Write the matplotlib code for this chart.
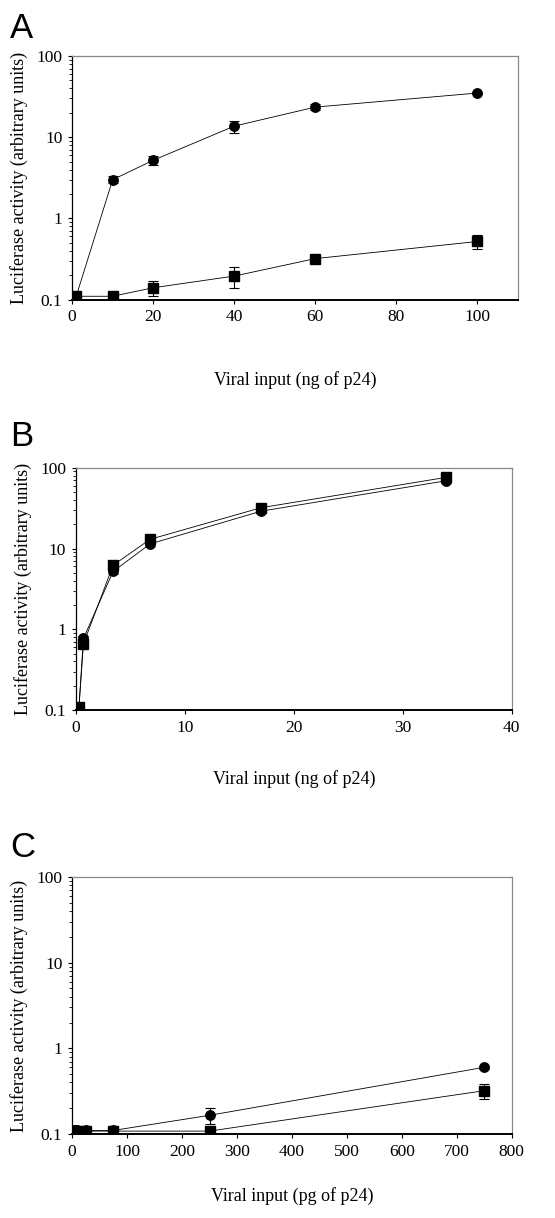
import matplotlib
matplotlib.use('Agg')
import matplotlib.pyplot as plt
from matplotlib.ticker import FixedLocator, LogLocator, NullFormatter

plt.rcParams['font.family'] = 'Liberation Serif'

# panel A: ng of p24
a_x = [1, 10, 20, 40, 60, 100]
a_circ = [0.11, 3.0, 5.2, 13.7, 23.5, 35]
a_circ_err = [0.0, 0.3, 0.6, 2.3, 1.8, 1.0]
a_sq = [0.11, 0.11, 0.14, 0.195, 0.32, 0.52]
a_sq_err = [0.0, 0.0, 0.03, 0.055, 0.015, 0.105]

# panel B: ng of p24
b_x = [0.27, 0.68, 3.4, 6.8, 17, 34]
b_circ = [0.11, 0.77, 5.2, 11.4, 29, 69]
b_circ_err = [0.0, 0.05, 0.4, 0.8, 1.5, 4]
b_sq = [0.11, 0.66, 6.2, 13.0, 32, 76]
b_sq_err = [0.0, 0.08, 0.6, 1.2, 2, 6]

# panel C: pg of p24
c_x = [2.5, 8, 25, 75, 250, 750]
c_circ = [0.11, 0.11, 0.11, 0.11, 0.165, 0.6]
c_circ_err = [0.0, 0.0, 0.0, 0.0, 0.035, 0.02]
c_sq = [0.108, 0.108, 0.108, 0.108, 0.108, 0.32]
c_sq_err = [0.0, 0.0, 0.0, 0.0, 0.0, 0.065]

panels = [
    ('A', a_x, a_circ, a_circ_err, a_sq, a_sq_err, (0, 110), [0, 20, 40, 60, 80, 100],
     'Viral input (ng of p24)', [0.130, 0.754, 0.803, 0.200], 0.977, 33),
    ('B', b_x, b_circ, b_circ_err, b_sq, b_sq_err, (0, 40), [0, 10, 20, 30, 40],
     'Viral input (ng of p24)', [0.137, 0.417, 0.785, 0.199], 0.642, 25),
    ('C', c_x, c_circ, c_circ_err, c_sq, c_sq_err, (0, 800), list(range(0, 801, 100)),
     'Viral input (pg of p24)', [0.130, 0.069, 0.792, 0.211], 0.304, 20),
]

fig = plt.figure(figsize=(5.55, 12.18), dpi=100)

for letter, x, yc, ec, ys, es, xlim, xt, xlab, pos, ly, lpad in panels:
    ax = fig.add_axes(pos)
    ax.errorbar(x, ys, yerr=es, color='black', marker='s', ms=6.8, lw=0.6,
                elinewidth=0.8, capsize=3.5, capthick=0.8, zorder=3)
    ax.errorbar(x, yc, yerr=ec, color='black', marker='o', ms=6.8, lw=0.6,
                elinewidth=0.8, capsize=3.5, capthick=0.8, zorder=3)
    ax.set_yscale('log')
    ax.set_ylim(0.1, 100)
    ax.set_xlim(*xlim)
    ax.set_yticks([0.1, 1, 10, 100])
    ax.set_yticklabels(['0.1', '1', '10', '100'])
    ax.yaxis.set_minor_locator(LogLocator(base=10, subs=range(2, 10)))
    ax.yaxis.set_minor_formatter(NullFormatter())
    ax.xaxis.set_major_locator(FixedLocator(xt))
    ax.tick_params(axis='both', which='major', direction='out', length=3,
                   width=0.8, labelsize=12.5, pad=4)
    ax.tick_params(axis='y', which='minor', direction='out', length=2, width=0.6)
    for s in ['top', 'right']:
        ax.spines[s].set_color('#888888')
        ax.spines[s].set_linewidth(0.9)
    ax.spines['left'].set_linewidth(0.9)
    ax.spines['bottom'].set_linewidth(1.4)
    ax.set_ylabel('Luciferase activity (arbitrary units)', fontsize=13, labelpad=6)
    ax.set_xlabel(xlab, fontsize=13, labelpad=lpad)
    fig.text(0.018, ly, letter, fontsize=25, family='Liberation Sans',
             va='center', ha='left')

fig.savefig('out.png', dpi=100)
